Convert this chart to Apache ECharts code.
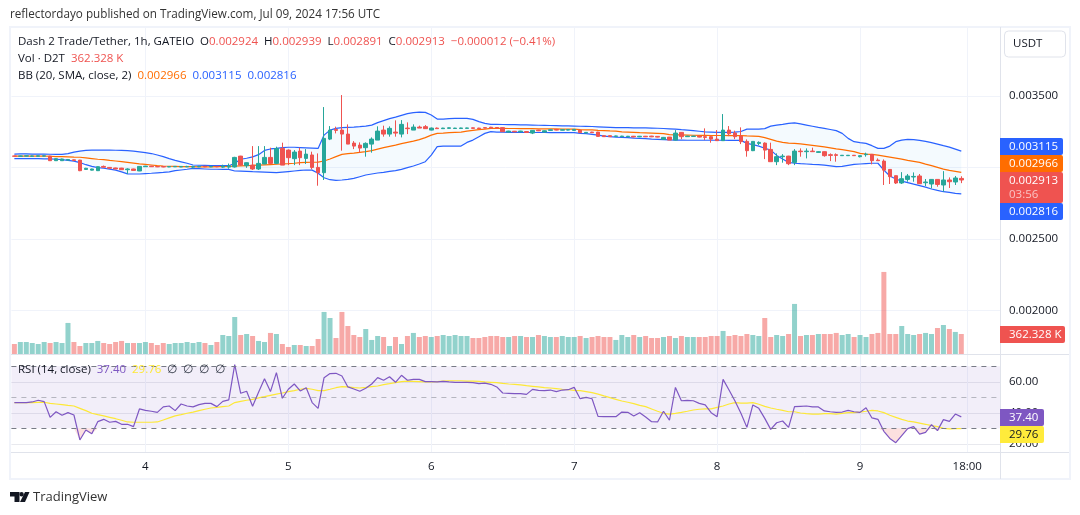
<!DOCTYPE html>
<html lang="en">

<head>
  <meta charset="UTF-8">
  <title>D2T/USDT 1h</title>
  <style type="text/css">
    html, body { margin: 0; padding: 0; background: #fff; }
    #chart { width: 1080px; height: 515px; }
  </style>
</head>

<body>
  <div id="chart"></div>
  <script src="https://cdn.jsdelivr.net/npm/echarts@6/dist/echarts.min.js"></script>
  <script type="text/javascript">

    // prices are in millionths of a USDT
    var opens = [3081,3079,3080,3079,3079,3080,3080,3048,3048,3052,3054,3052,2987,2982,2978,3008,3001,2997,2996,2985,
      2990,2976,3006,3010,3007,3007,3004,3005,3004,3005,3003,3005,3009,3005,3008,3003,3003,3004,3080,3013,
      3017,2990,3025,3071,3029,3134,3122,3062,3115,3064,3088,3001,2964,3199,3267,3262,3234,3171,3157,3139,
      3164,3192,3262,3234,3248,3234,3276,3262,3283,3286,3262,3276,3272,3274,3273,3273,3274,3278,3276,3279,
      3282,3280,3279,3248,3254,3250,3252,3241,3262,3248,3260,3266,3261,3262,3260,3262,3242,3248,3248,3223,
      3223,3218,3216,3215,3219,3215,3219,3220,3218,3197,3213,3192,3246,3216,3218,3220,3216,3216,3199,3188,
      3262,3241,3220,3183,3118,3169,3171,3127,3041,3076,3080,3036,3115,3111,3115,3106,3111,3090,3090,3083,
      3083,3086,3076,3090,3092,3052,3045,2987,2943,2892,2917,2934,2941,2894,2885,2917,2878,2913,2899,2924]
    var closes = [3079,3081,3082,3081,3082,3082,3048,3062,3060,3056,3050,2978,2995,2990,3006,3002,2995,2990,2985,2990,
      2980,3008,3010,3006,3005,3004,3007,3008,3008,3008,3007,3008,3005,3008,3005,3010,3012,3071,3017,3034,
      2990,3029,3071,3029,3134,3017,3069,3108,3069,3094,3001,2964,3204,3262,3260,3234,3164,3150,3136,3169,
      3199,3255,3234,3274,3241,3302,3272,3283,3276,3272,3276,3272,3276,3278,3276,3277,3277,3274,3272,3276,
      3276,3276,3251,3255,3250,3255,3245,3260,3257,3257,3264,3262,3265,3265,3267,3244,3246,3244,3218,3216,
      3216,3221,3220,3219,3214,3219,3215,3215,3213,3211,3192,3241,3216,3220,3220,3213,3211,3199,3188,3262,
      3236,3216,3181,3118,3183,3176,3122,3041,3076,3080,3027,3115,3111,3115,3111,3111,3083,3085,3085,3086,
      3086,3083,3083,3094,3048,3048,2982,2936,2892,2922,2941,2938,2887,2899,2917,2882,2913,2901,2927,2913]
    var lows = [3077,3077,3078,3077,3077,3078,3046,3047,3046,3050,3048,2975,2985,2980,2976,3000,2993,2989,2983,2955,
      2978,2975,3004,3004,3003,3002,3003,3004,3003,3003,2992,3003,3003,3003,3003,2998,2992,3000,3012,2998,
      2983,2983,3024,3024,3024,3017,3017,3017,3017,3025,2987,2873,2913,3192,3239,3118,3164,3129,3104,3076,
      3104,3192,3216,3216,3216,3211,3234,3262,3276,3270,3260,3270,3271,3272,3271,3271,3272,3272,3270,3274,
      3274,3274,3250,3246,3248,3248,3243,3234,3255,3246,3258,3260,3260,3260,3258,3243,3240,3242,3217,3214,
      3214,3216,3214,3213,3212,3213,3213,3213,3211,3195,3192,3190,3199,3214,3216,3211,3192,3174,3186,3186,
      3220,3199,3164,3076,3115,3157,3059,3041,3017,3034,3017,3017,3076,3064,3109,3105,3076,3045,3041,3083,
      3083,3083,3071,3076,3022,3047,2878,2885,2885,2885,2901,2901,2885,2871,2854,2866,2831,2857,2878,2891]
    var highs = [3083,3083,3083,3083,3084,3084,3082,3063,3062,3060,3056,3054,2998,2992,3008,3014,3003,2999,2998,2995,
      2992,3009,3012,3012,3009,3010,3009,3009,3010,3012,3012,3012,3011,3010,3010,3020,3028,3075,3082,3036,
      3150,3150,3150,3139,3146,3174,3127,3122,3139,3129,3111,3099,3423,3290,3286,3507,3302,3185,3176,3176,
      3211,3288,3293,3288,3330,3332,3316,3302,3293,3297,3280,3280,3278,3280,3278,3279,3279,3280,3278,3281,
      3285,3282,3281,3257,3256,3257,3254,3262,3264,3259,3266,3268,3267,3267,3269,3264,3248,3250,3250,3225,
      3225,3223,3222,3221,3221,3221,3221,3222,3220,3214,3214,3262,3248,3222,3222,3222,3274,3222,3262,3374,
      3290,3258,3281,3197,3185,3183,3176,3174,3099,3094,3082,3129,3134,3134,3139,3115,3113,3099,3099,3086,
      3086,3086,3084,3104,3094,3064,3057,2989,2945,2968,2955,2966,2955,2920,2919,2919,2975,2931,2941,2939]

    var bbUpper = [3094,3095,3095,3094,3094,3094,3093,3092,3092,3097,3108,3115,3120,3122,3122,3122,3122,3121,3120,3118,
      3115,3110,3104,3098,3088,3076,3062,3050,3040,3030,3018,3016,3015,3014,3014,3013,3013,3030,3058,3065,
      3075,3090,3120,3130,3134,3140,3142,3142,3140,3138,3136,3134,3227,3262,3274,3279,3281,3283,3286,3290,
      3297,3314,3328,3342,3353,3365,3377,3384,3388,3386,3367,3339,3339,3342,3344,3344,3344,3337,3321,3309,
      3302,3302,3301,3300,3300,3299,3298,3297,3296,3295,3294,3293,3292,3291,3290,3289,3288,3287,3285,3283,
      3281,3279,3279,3279,3278,3278,3277,3276,3275,3273,3271,3269,3265,3262,3258,3254,3250,3248,3246,3246,
      3246,3248,3252,3269,3269,3269,3272,3290,3297,3302,3309,3313,3305,3297,3289,3281,3274,3266,3258,3239,
      3204,3181,3174,3169,3153,3134,3134,3150,3181,3192,3197,3195,3190,3183,3174,3164,3153,3143,3129,3115]
    var bbMiddle = [3080,3080,3080,3080,3080,3080,3079,3077,3076,3075,3073,3072,3068,3063,3058,3055,3050,3046,3041,3036,
      3031,3026,3022,3018,3014,3011,3009,3008,3007,3006,3006,3005,3005,3005,3006,3007,3008,3010,3012,3014,
      3015,3017,3019,3021,3023,3025,3027,3030,3034,3036,3037,3038,3046,3060,3076,3092,3097,3101,3106,3111,
      3118,3129,3139,3148,3157,3167,3176,3185,3195,3209,3227,3239,3241,3244,3246,3248,3255,3260,3265,3269,
      3274,3274,3274,3273,3273,3272,3272,3272,3271,3271,3270,3270,3269,3269,3269,3265,3264,3263,3260,3258,
      3256,3255,3250,3248,3246,3244,3243,3241,3239,3237,3230,3229,3228,3227,3226,3225,3225,3224,3224,3224,
      3223,3223,3223,3221,3220,3218,3209,3197,3185,3176,3171,3169,3165,3160,3155,3150,3144,3138,3131,3125,
      3118,3111,3099,3094,3092,3087,3080,3073,3066,3059,3050,3043,3036,3024,3013,3001,2989,2980,2973,2966]
    var bbLower = [3062,3062,3062,3062,3062,3061,3060,3058,3056,3050,3045,3035,3020,3008,3000,2995,2989,2982,2970,2956,
      2955,2955,2958,2960,2963,2966,2970,2978,2983,2988,2994,2992,2990,2988,2988,2987,2987,2976,2975,2973,
      2971,2970,2968,2966,2964,2968,2972,2976,2980,2983,2982,2960,2929,2915,2910,2913,2917,2924,2936,2948,
      2955,2962,2966,2973,2978,2987,2999,3011,3025,3041,3087,3146,3150,3150,3150,3150,3176,3192,3216,3239,
      3251,3248,3248,3246,3246,3246,3245,3245,3245,3245,3244,3244,3244,3244,3244,3239,3237,3232,3227,3220,
      3216,3213,3211,3209,3206,3204,3202,3199,3197,3195,3193,3192,3192,3191,3191,3191,3191,3191,3191,3191,
      3190,3190,3190,3169,3160,3150,3135,3122,3085,3060,3036,3030,3027,3025,3022,3020,3017,3012,3006,3008,
      3015,3022,3025,3028,3030,3030,2982,2941,2920,2905,2895,2884,2874,2863,2850,2840,2831,2826,2820,2816]

    // volume in thousands of D2T
    var volumes = [181,217,217,199,181,217,199,217,199,562,217,145,199,199,236,199,181,217,236,199,
      199,199,217,199,163,199,181,199,199,217,199,217,199,163,217,344,326,670,344,362,
      326,236,217,381,362,181,127,163,163,145,145,272,761,652,290,761,507,344,308,453,
      254,326,308,145,308,181,326,381,308,326,308,326,344,326,344,326,326,290,290,308,
      326,326,308,308,326,326,308,308,344,326,308,308,326,308,308,326,290,308,326,308,
      308,254,344,308,344,308,326,290,290,308,326,290,326,308,308,308,308,326,326,417,
      326,344,326,362,344,326,652,308,344,326,362,906,326,344,344,362,362,362,381,344,
      362,308,344,308,362,381,1485,362,362,507,362,344,362,381,362,471,525,453,399,362.328]

    var rsiValues = [46.6,46.6,46.6,47.0,48.1,47.2,37.1,40.7,38.4,40.1,38.6,22.5,28.9,26.5,34.3,35.8,33.9,34.5,32.6,32.6,
      31.1,42.5,41.6,41.0,40.3,43.8,44.4,41.4,45.7,44.4,43.8,45.3,46.1,46.1,44.0,47.4,48.3,71.1,52.6,53.9,
      44.2,53.2,62.0,53.7,65.9,49.4,55.2,58.6,54.1,56.2,46.6,42.9,62.7,65.3,65.5,63.8,56.7,55.4,53.9,55.8,
      58.6,62.7,61.0,63.3,59.7,64.2,61.0,61.6,61.6,60.1,60.1,59.9,60.3,59.9,59.7,59.7,59.7,59.5,58.8,59.2,
      58.4,56.7,52.8,52.6,52.4,52.4,51.9,55.1,54.5,54.3,54.7,53.7,54.7,54.9,56.4,49.1,50.0,49.1,37.7,37.5,
      37.5,37.5,40.5,40.3,38.0,40.1,37.3,34.3,34.1,41.0,35.2,56.4,47.8,48.0,47.8,46.1,45.1,40.1,37.5,61.6,
      54.7,47.6,39.7,30.6,45.1,42.9,36.4,29.3,33.6,34.7,30.6,44.0,44.2,44.4,43.8,43.8,41.2,40.7,40.3,40.5,
      41.6,40.7,40.3,43.3,36.7,35.8,28.1,23.5,20.7,25.3,29.8,31.1,26.3,27.4,32.4,28.5,35.6,34.5,39.2,37.4]
    var rsiAverage = [46.6,46.6,46.6,46.6,46.8,46.8,46.1,45.7,45.3,44.8,44.4,42.9,41.4,39.7,38.8,38.0,37.1,36.2,35.2,34.1,
      33.9,33.9,33.9,33.9,34.1,35.4,36.7,38.0,38.8,39.7,40.5,41.4,42.3,43.1,43.5,44.0,44.4,46.6,47.4,48.1,
      48.7,49.6,50.4,51.3,52.1,52.8,53.7,54.3,55.2,55.8,55.2,54.3,54.3,55.2,56.2,56.9,56.7,56.2,56.0,56.4,
      56.9,57.3,58.2,58.8,59.5,60.1,60.5,60.3,60.1,59.9,59.9,60.1,60.5,60.7,60.7,60.7,60.5,60.5,60.3,59.9,
      59.7,59.5,59.0,58.6,58.4,58.0,57.5,57.1,56.7,56.2,56.0,55.6,55.2,54.9,54.5,54.3,53.7,53.0,52.1,50.9,
      49.8,48.7,47.6,46.8,45.9,44.8,44.0,42.5,41.0,39.7,39.2,39.7,40.3,41.0,41.8,42.3,42.5,42.5,43.5,44.4,
      45.7,46.6,46.3,46.3,46.6,45.5,44.2,43.1,42.3,41.6,40.7,40.7,39.9,39.5,39.2,39.2,39.5,39.5,39.2,39.7,
      40.1,40.1,40.5,41.0,41.6,41.2,40.1,38.4,37.1,35.8,34.7,34.1,33.4,32.6,31.7,31.1,30.0,29.6,29.8,29.76]

    var priceTicks = [3500, 3000, 2500, 2000]
    var priceLabels = [3500, 2500, 2000]
    var rsiTicks = [60, 40, 20]
    var timeLabels = { 22: '4', 46: '5', 70: '6', 94: '7', 118: '8', 142: '9', 160: '18:00' }

    var UP = '#26a69a'
    var DOWN = '#ef5350'
    var BLUE = '#2962ff'
    var ORANGE = '#ff6d00'
    var PURPLE = '#7e57c2'
    var YELLOW = '#fde837'
    var TEXT = '#131722'
    var FONT = '"Open Sans", sans-serif'
    var SMALL = '11.5px ' + FONT

    // the time scale runs on for six empty hours after the last bar
    var categories = []
    for (var n = 0; n < 166; n++) categories.push(timeLabels[n] || '')

    var candles = opens.map(function (o, i) {
      return [o, closes[i], lows[i], highs[i]]
    })
    var volumeBars = volumes.map(function (v, i) {
      return {
        value: v,
        itemStyle: { color: closes[i] >= opens[i] ? 'rgba(38,166,154,0.5)' : 'rgba(239,83,80,0.5)' }
      }
    })
    var bbBand = bbUpper.map(function (v, i) { return v - bbLower[i] })
    var rsiBelow = rsiValues.map(function (v) { return Math.min(v, 30) })

    function xAxis (gridIndex, withLabels) {
      return {
        type: 'category',
        gridIndex: gridIndex,
        data: categories,
        axisLine: { show: false },
        axisTick: { show: false },
        axisLabel: {
          show: withLabels,
          interval: 0,
          margin: 8,
          color: TEXT,
          fontSize: 11.5,
          fontFamily: FONT,
          hideOverlap: false
        },
        splitLine: {
          show: gridIndex !== 1,
          alignWithLabel: true,
          interval: function (i) { return !!timeLabels[i] },
          lineStyle: { color: '#f0f3fa', width: 1 }
        }
      }
    }

    function plainLine (name, data, color, xy) {
      return {
        name: name,
        type: 'line',
        xAxisIndex: xy,
        yAxisIndex: xy,
        data: data,
        symbol: 'none',
        silent: true,
        lineStyle: { color: color, width: 1.2 },
        z: 3
      }
    }

    function tag (text, y, h, w, fill, color) {
      return {
        type: 'group', x: 1000, y: y,
        children: [
          { type: 'rect', z: 50, shape: { x: 0, y: 0, width: w, height: h, r: [0, 2, 2, 0] }, style: { fill: fill } },
          { type: 'text', z: 51, x: 9, y: 8.5, style: { text: text, fill: color, font: SMALL, verticalAlign: 'middle' } }
        ]
      }
    }

    function legend (y, text, rich) {
      return {
        type: 'text', x: 18, y: y, z: 40,
        style: { text: text, rich: rich, fill: TEXT, font: SMALL, verticalAlign: 'middle' }
      }
    }

    var legendRich = {
      r: { fill: DOWN, font: SMALL },
      o: { fill: ORANGE, font: SMALL },
      b: { fill: BLUE, font: SMALL },
      p: { fill: PURPLE, font: SMALL },
      y: { fill: YELLOW, font: SMALL },
      t: { fill: '#333a47', font: SMALL }
    }

    var frameColor = '#f0f3fa'
    var edgeColor = '#e0e3eb'

    var option = {
      animation: false,
      backgroundColor: '#ffffff',
      grid: [
        { left: 11.4, width: 988.6, top: 27, height: 327 },
        { left: 11.4, width: 988.6, top: 262, height: 92 },
        { left: 11.4, width: 988.6, top: 355, height: 97.5 }
      ],
      xAxis: [xAxis(0, false), xAxis(1, false), xAxis(2, true)],
      yAxis: [
        {
          type: 'value', gridIndex: 0, position: 'right', scale: true,
          min: 1696, max: 3983,
          axisLine: { show: false },
          axisTick: { show: false, customValues: priceTicks },
          axisLabel: {
            customValues: priceLabels, margin: 9, color: TEXT, fontSize: 11.5, fontFamily: FONT,
            formatter: function (v) { return (v / 1e6).toFixed(6) }
          },
          splitLine: { lineStyle: { color: '#f0f3fa', width: 1 } }
        },
        {
          type: 'value', gridIndex: 1, min: 0, max: 1665,
          axisLine: { show: false }, axisTick: { show: false },
          axisLabel: { show: false }, splitLine: { show: false }
        },
        {
          type: 'value', gridIndex: 2, position: 'right',
          min: 14.4, max: 77.3,
          axisLine: { show: false },
          axisTick: { show: false, customValues: rsiTicks },
          axisLabel: {
            customValues: rsiTicks, margin: 9, color: TEXT, fontSize: 11.5, fontFamily: FONT,
            formatter: function (v) { return v.toFixed(2) }
          },
          splitLine: { lineStyle: { color: '#e8e9ee', width: 1 } }
        }
      ],
      series: [
        {
          name: 'Volume', type: 'bar', xAxisIndex: 1, yAxisIndex: 1,
          data: volumeBars, barWidth: 5, silent: true, z: 1
        },
        {
          name: 'BB base', type: 'line', stack: 'bb', data: bbLower,
          xAxisIndex: 0, yAxisIndex: 0, symbol: 'none', silent: true,
          lineStyle: { width: 0 }, z: 2
        },
        {
          name: 'BB fill', type: 'line', stack: 'bb', data: bbBand,
          xAxisIndex: 0, yAxisIndex: 0, symbol: 'none', silent: true,
          lineStyle: { width: 0 }, areaStyle: { color: 'rgba(33,150,243,0.05)', opacity: 1 }, z: 2
        },
        plainLine('BB upper', bbUpper, BLUE, 0),
        plainLine('BB lower', bbLower, BLUE, 0),
        plainLine('BB basis', bbMiddle, ORANGE, 0),
        {
          name: 'Price', type: 'candlestick', xAxisIndex: 0, yAxisIndex: 0,
          data: candles, barWidth: 4, silent: true, z: 4,
          itemStyle: { color: UP, color0: DOWN, borderColor: UP, borderColor0: DOWN, borderWidth: 1 }
        },
        {
          name: 'RSI oversold', type: 'line', xAxisIndex: 2, yAxisIndex: 2,
          data: rsiBelow, symbol: 'none', silent: true,
          lineStyle: { width: 0 },
          areaStyle: { origin: 30, color: 'rgba(239,83,80,0.18)', opacity: 1 }, z: 2
        },
        {
          name: 'RSI', type: 'line', xAxisIndex: 2, yAxisIndex: 2,
          data: rsiValues, symbol: 'none', silent: true,
          lineStyle: { color: PURPLE, width: 1.2 }, z: 4,
          markArea: {
            silent: true,
            itemStyle: { color: 'rgba(126,87,194,0.1)' },
            data: [[{ yAxis: 70 }, { yAxis: 30 }]]
          },
          markLine: {
            silent: true, symbol: 'none', animation: false,
            label: { show: false },
            data: [
              { yAxis: 70, lineStyle: { color: '#787b86', type: [5, 5], width: 1 } },
              { yAxis: 50, lineStyle: { color: 'rgba(120,123,134,0.5)', type: [5, 5], width: 1 } },
              { yAxis: 30, lineStyle: { color: '#787b86', type: [5, 5], width: 1 } }
            ]
          }
        },
        plainLine('RSI average', rsiAverage, YELLOW, 2)
      ],
      graphic: [
        { type: 'text', x: 10, y: 15, style: { text: 'reflectordayo published on TradingView.com, Jul 09, 2024 17:56 UTC', fill: '#333', font: '11.7px ' + FONT, verticalAlign: 'middle' } },
        // frame and pane separators
        { type: 'rect', z: 30, shape: { x: 10, y: 27, width: 1060, height: 452 }, style: { fill: 'none', stroke: frameColor, lineWidth: 2 } },
        { type: 'line', z: 30, shape: { x1: 1000.5, y1: 27, x2: 1000.5, y2: 479 }, style: { stroke: edgeColor } },
        { type: 'line', z: 30, shape: { x1: 11, y1: 354.5, x2: 1069, y2: 354.5 }, style: { stroke: edgeColor } },
        { type: 'line', z: 30, shape: { x1: 11, y1: 452.5, x2: 1069, y2: 452.5 }, style: { stroke: edgeColor } },
        // legends
        legend(42, 'Dash 2 Trade/Tether, 1h, GATEIO  O{r|0.002924}  H{r|0.002939}  L{r|0.002891}  C{r|0.002913}  {r|\u22120.000012 (\u22120.41%)}', legendRich),
        legend(59, 'Vol \u00b7 D2T  {r|362.328 K}', legendRich),
        legend(76, 'BB (20, SMA, close, 2)  {o|0.002966}  {b|0.003115}  {b|0.002816}', legendRich),
        legend(370, 'RSI (14, close)  {p|37.40}  {y|29.76}  {t|\u2205  \u2205  \u2205  \u2205}', legendRich),
        // currency button
        { type: 'rect', z: 30, shape: { x: 1004.5, y: 31, width: 61, height: 26, r: 4 }, style: { fill: '#fff', stroke: edgeColor } },
        { type: 'text', z: 31, x: 1013, y: 44, style: { text: 'USDT', fill: TEXT, font: SMALL, verticalAlign: 'middle' } },
        // last value tags
        tag('0.003115', 138, 17, 63, BLUE, '#fff'),
        tag('0.002966', 155, 17, 63, ORANGE, '#fff'),
        {
          type: 'group', x: 1000, y: 172,
          children: [
            { type: 'rect', z: 50, shape: { x: 0, y: 0, width: 63, height: 31, r: [0, 2, 2, 0] }, style: { fill: DOWN } },
            { type: 'text', z: 51, x: 9, y: 9, style: { text: '0.002913', fill: '#fff', font: SMALL, verticalAlign: 'middle' } },
            { type: 'text', z: 51, x: 9, y: 23, style: { text: '03:56', fill: '#f9c4c3', font: SMALL, verticalAlign: 'middle' } }
          ]
        },
        tag('0.002816', 203, 17, 63, BLUE, '#fff'),
        tag('362.328 K', 326, 17, 65, DOWN, '#fff'),
        tag('37.40', 409, 17, 44, PURPLE, '#fff'),
        tag('29.76', 426, 17, 44, '#ffeb3b', TEXT),
        // TradingView mark
        { type: 'polygon', z: 30, shape: { points: [[10, 492], [19.5, 492], [19.5, 502], [14.5, 502], [14.5, 496.5], [10, 496.5]] }, style: { fill: '#131722' } },
        { type: 'circle', z: 30, shape: { cx: 21.6, cy: 494.2, r: 2.2 }, style: { fill: '#131722' } },
        { type: 'polygon', z: 30, shape: { points: [[25, 492], [29.5, 492], [25, 502], [20, 502]] }, style: { fill: '#131722' } },
        { type: 'text', x: 33, y: 497, style: { text: 'TradingView', fill: '#333', font: '13px ' + FONT, verticalAlign: 'middle' } }
      ]
    }

    var myChart = echarts.init(document.getElementById('chart'), null, { renderer: 'canvas' })
    myChart.setOption(option)
  </script>
</body>

</html>
